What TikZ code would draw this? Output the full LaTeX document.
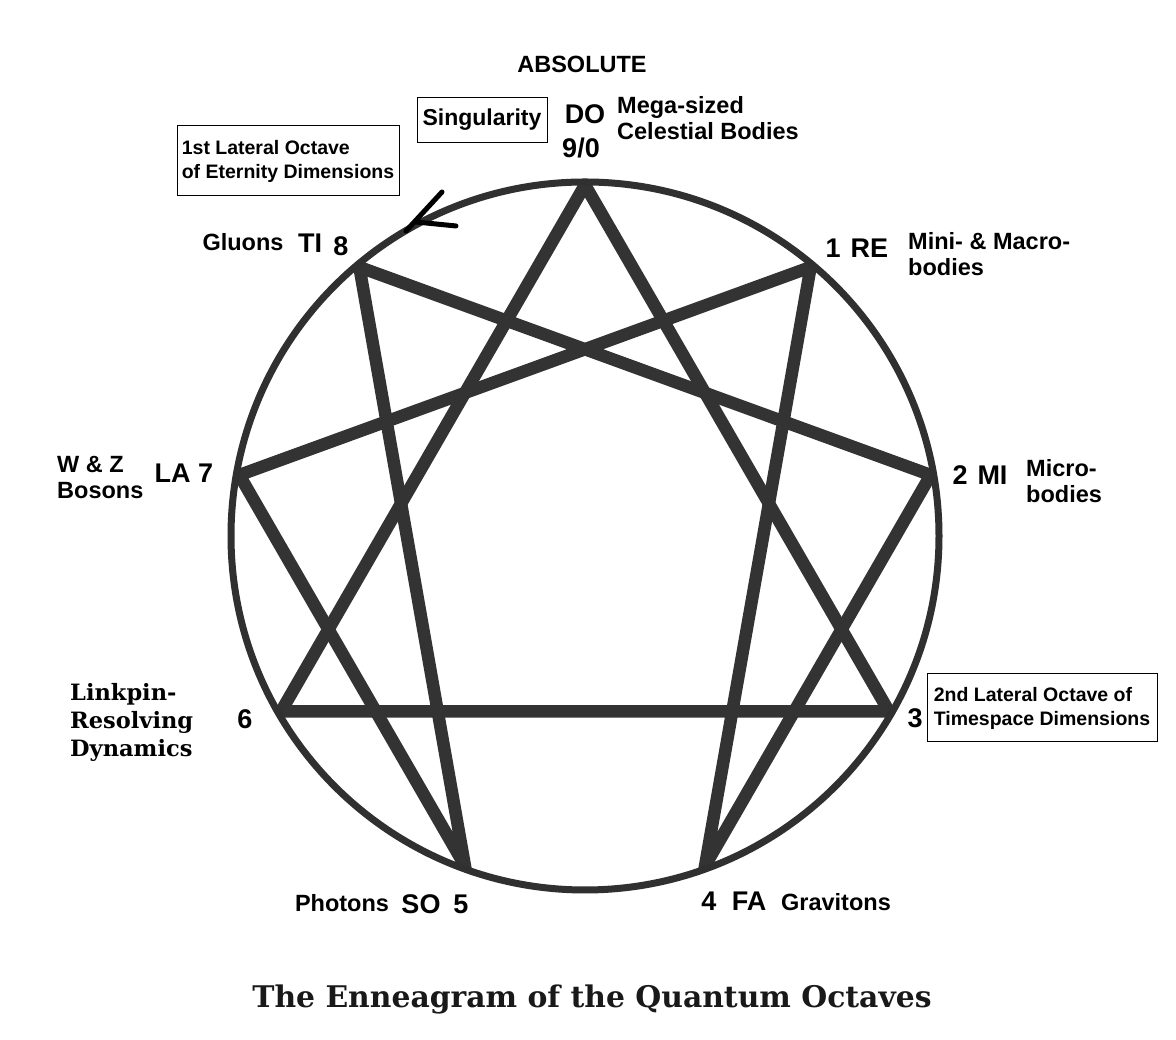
\documentclass[tikz,border=0pt]{standalone}
\usepackage{xcolor}
\usepackage{fontspec}
\setmainfont{Liberation Sans}
\newfontfamily\slabfont{DejaVu Serif}
\usepackage{tikz}
\usetikzlibrary{positioning, calc}

\definecolor{starline}{HTML}{333333}

\begin{document}
\begin{tikzpicture}[x=1pt, y=1pt]
\tikzstyle{note} = [font=\fontsize{23.5}{26}\selectfont\bfseries, align=left, inner sep=0pt]
\tikzstyle{tone} = [font=\fontsize{27}{29}\selectfont\bfseries, inner sep=0pt]
\tikzstyle{framed} = [draw, line width=1pt, font=\fontsize{19.5}{24}\selectfont\bfseries, align=left, inner sep=0pt]
\tikzstyle{chord} = [line width=12.5pt, starline, line join=miter]

\useasboundingbox (0,0) rectangle (1176,1040);
\fill[white] (0,0) rectangle (1176,1040);

% points of the enneagram
\coordinate (centre) at (585,504);
\foreach \k in {0,...,8}
  \coordinate (p\k) at ($(centre)+({90-40*\k}:351)$);

\begin{scope}
\clip (centre) circle (357);
\draw[chord] (p0) -- (p3) -- (p6) -- cycle;
\draw[chord] (p1) -- (p4) -- (p2) -- (p8) -- (p5) -- (p7) -- cycle;
\end{scope}
\draw[line width=7pt, starline!95!black] (centre) circle (354);

% hand-drawn mark
\coordinate (mA) at (406,809);
\coordinate (mB) at (442,848);
\coordinate (mC) at (416,818);
\coordinate (mD) at (456,814);
\draw[line width=5pt, line cap=round] (mA) -- (mB);
\draw[line width=5pt, line cap=round] (mC) -- (mD);

% top
\node (absolute) [note] at (582,976) {ABSOLUTE};
\node (do) [tone] at (585,926) {DO};
\node (nine) [tone] at (581,892) {9/0};
\node (singular) [framed, font=\fontsize{23}{26}\selectfont\bfseries, minimum width=130pt, minimum height=45pt, align=center] at (482,920) {Singularity};
\node (mega) [note, anchor=west] at (617,922) {Mega-sized\\Celestial Bodies};
\node (first) [framed, minimum width=222pt, minimum height=70pt] at (288,879) {1st Lateral Octave\\of Eternity Dimensions};

% upper ring
\node (gluons) [note] at (243,798) {Gluons};
\node (ti) [tone] at (310,797) {TI};
\node (eight) [tone] at (341,794) {8};
\node (re) [tone] at (857,792) {1\hspace{10pt}RE};
\node (macro) [note, anchor=west] at (908,786) {Mini- \& Macro-\\bodies};

% middle ring
\node (mi) [tone] at (980,565) {2\hspace{10pt}MI};
\node (micro) [note, anchor=west] at (1026,559) {Micro-\\bodies};
\node (bosons) [note, anchor=west] at (57,563) {W \& Z\\Bosons};
\node (la) [tone] at (184,567) {LA 7};

% lower ring
\node (linkpin) [note, anchor=west, font=\fontsize{22.5}{28}\selectfont\slabfont\bfseries] at (70,318) {Linkpin-\\Resolving\\Dynamics};
\node (six) [tone] at (245,321) {6};
\node (three) [tone] at (915,322) {3};
\node (second) [framed, minimum width=230pt, minimum height=68pt] at (1042,332) {2nd Lateral Octave of\\Timespace Dimensions};

% bottom
\node (photons) [note] at (342,137) {Photons};
\node (so) [tone] at (421,136) {SO};
\node (five) [tone] at (461,136) {5};
\node (four) [tone] at (709,139) {4};
\node (fa) [tone] at (749,139) {FA};
\node (gravitons) [note] at (836,138) {Gravitons};

\node (title) [font=\fontsize{29.8}{32}\selectfont\slabfont\bfseries, text=black!90] at (592,41) {The Enneagram of the Quantum Octaves};

\end{tikzpicture}
\end{document}
